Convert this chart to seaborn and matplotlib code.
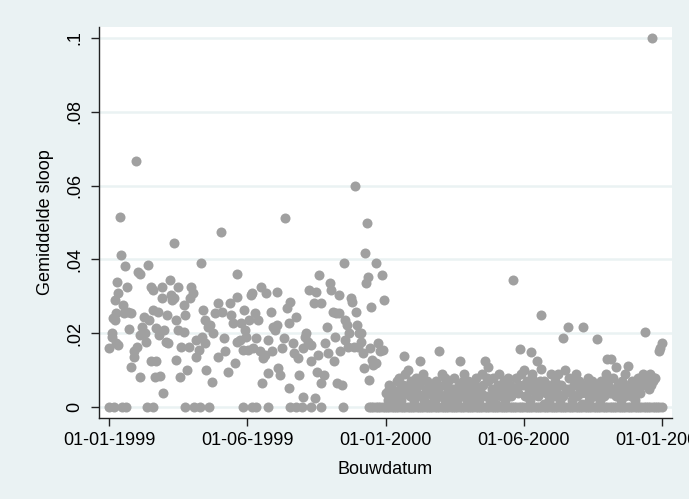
import matplotlib
matplotlib.use("Agg")
import matplotlib.pyplot as plt
import pandas as pd
import seaborn as sns

# Days since 01-01-1999 and average demolition rate per construction date
days_1999 = [0, 3, 3, 5, 7, 9, 7, 10, 12, 9, 11, 14, 16, 18, 20, 19, 23, 25, 26, 28,
             29, 32, 33, 35, 36, 38, 41, 40, 40, 43, 46, 47, 48, 51, 53, 55, 55, 58, 57, 60,
             62, 61, 64, 65, 67, 69, 70, 71, 72, 75, 76, 78, 80, 82, 83, 85, 86, 88, 88, 91,
             91, 93, 95, 98, 99, 100, 103, 105, 107, 108, 111, 114, 115, 118, 121, 123, 124, 126, 127, 128,
             130, 133, 135, 137, 140, 143, 144, 148, 149, 152, 153, 157, 159, 161, 164, 166, 168, 169, 169, 172,
             174, 176, 178, 179, 181, 183, 185, 187, 188, 190, 192, 194, 196, 199, 200, 202, 203, 206, 207, 209,
             210, 213, 215, 216, 219, 221, 222, 223, 226, 228, 231, 232, 235, 237, 238, 239, 242, 244, 246, 249,
             251, 256, 256, 259, 260, 263, 264, 266, 267, 270, 272, 273, 274, 276, 277, 279, 280, 283, 285, 287,
             289, 291, 293, 295, 297, 298, 300, 301, 303, 304, 305, 307, 310, 311, 312, 314, 315, 317, 319, 321,
             323, 324, 326, 327, 328, 330, 332, 333, 335, 336, 338, 339, 340, 342, 343, 345, 346, 347, 349, 352,
             353, 355, 357, 360, 362, 363]
sloop_1999 = [0.0160, 0.0200, 0.0191, 0.0241, 0.0290, 0.0254, 0.0236, 0.0340, 0.0308, 0.0173,
              0.0169, 0.0516, 0.0412, 0.0277, 0.0381, 0.0254, 0.0326, 0.0259, 0.0211, 0.0110,
              0.0254, 0.0137, 0.0151, 0.0666, 0.0164, 0.0367, 0.0362, 0.0083, 0.0196, 0.0218,
              0.0245, 0.0200, 0.0178, 0.0385, 0.0236, 0.0326, 0.0124, 0.0317, 0.0263, 0.0083,
              0.0124, 0.0214, 0.0259, 0.0196, 0.0085, 0.0326, 0.0295, 0.0038, 0.0209, 0.0178,
              0.0250, 0.0173, 0.0344, 0.0304, 0.0290, 0.0444, 0.0295, 0.0236, 0.0128, 0.0326,
              0.0209, 0.0083, 0.0164, 0.0277, 0.0205, 0.0250, 0.0101, 0.0164, 0.0295, 0.0326,
              0.0308, 0.0182, 0.0137, 0.0155, 0.0390, 0.0191, 0.0263, 0.0173, 0.0236, 0.0101,
              0.0218, 0.0223, 0.0069, 0.0200, 0.0254, 0.0137, 0.0281, 0.0475, 0.0259, 0.0187,
              0.0151, 0.0096, 0.0281, 0.0250, 0.0227, 0.0119, 0.0178, 0.0362, 0.0299, 0.0182,
              0.0227, 0.0155, 0.0263, 0.0209, 0.0191, 0.0155, 0.0236, 0.0304, 0.0308, 0.0160,
              0.0254, 0.0187, 0.0236, 0.0151, 0.0326, 0.0065, 0.0133, 0.0142, 0.0308, 0.0182,
              0.0092, 0.0259, 0.0151, 0.0218, 0.0209, 0.0313, 0.0223, 0.0106, 0.0087, 0.0160,
              0.0187, 0.0511, 0.0268, 0.0227, 0.0051, 0.0286, 0.0173, 0.0146, 0.0245, 0.0133,
              0.0087, 0.0029, 0.0160, 0.0191, 0.0200, 0.0178, 0.0317, 0.0124, 0.0169, 0.0281,
              0.0024, 0.0313, 0.0096, 0.0142, 0.0358, 0.0065, 0.0281, 0.0087, 0.0173, 0.0218,
              0.0146, 0.0335, 0.0317, 0.0259, 0.0124, 0.0191, 0.0254, 0.0065, 0.0304, 0.0254,
              0.0151, 0.0060, 0.0390, 0.0236, 0.0182, 0.0223, 0.0164, 0.0200, 0.0295, 0.0286,
              0.0164, 0.0599, 0.0259, 0.0223, 0.0164, 0.0200, 0.0178, 0.0200, 0.0146, 0.0106,
              0.0417, 0.0335, 0.0498, 0.0353, 0.0074, 0.0160, 0.0272, 0.0128, 0.0115, 0.0119,
              0.0390, 0.0173, 0.0151, 0.0358, 0.0155, 0.0290]

days_2000 = [366, 368, 370, 372, 374, 376, 378, 380, 382, 384, 386, 388, 390, 391, 393, 395, 397, 399, 401, 403,
             405, 407, 409, 411, 412, 414, 416, 418, 420, 422, 424, 426, 428, 430, 432, 434, 436, 438, 440, 442,
             444, 446, 448, 450, 452, 454, 456, 458, 460, 462, 464, 466, 468, 470, 472, 474, 476, 478, 480, 482,
             484, 486, 488, 490, 492, 494, 496, 498, 500, 501, 503, 505, 507, 509, 511, 513, 515, 517, 519, 521,
             523, 525, 527, 529, 531, 534, 536, 538, 540, 542, 544, 546, 548, 550, 552, 554, 556, 557, 559, 561,
             563, 565, 567, 569, 570, 571, 573, 575, 577, 579, 581, 583, 585, 587, 589, 591, 593, 595, 597, 599,
             600, 602, 604, 606, 608, 610, 612, 614, 616, 618, 620, 622, 624, 626, 628, 630, 632, 634, 636, 638,
             640, 642, 644, 646, 648, 650, 652, 654, 656, 657, 659, 661, 663, 665, 667, 669, 670, 672, 674, 676,
             678, 680, 682, 684, 685, 687, 689, 691, 693, 695, 697, 699, 701, 703, 705, 707, 708, 710, 712, 714,
             716, 717, 719, 721, 727, 728, 730,
             369, 375, 383, 389, 396, 404, 410, 419, 427, 435, 443, 451, 459, 467, 475, 483, 491, 499, 508, 516,
             524, 532, 541, 549, 558, 566, 574, 582, 590, 598, 607, 615, 623, 631, 639, 647, 655, 664, 673, 681,
             690, 698, 706, 713, 720]
sloop_2000 = [0.004, 0.002, 0.006, 0.003, 0.005, 0.001, 0.004, 0.007, 0.003, 0.005,
              0.002, 0.006, 0.0139, 0.009, 0.004, 0.010, 0.003, 0.007, 0.005, 0.002,
              0.008, 0.004, 0.006, 0.0124, 0.003, 0.009, 0.002, 0.005, 0.007, 0.001,
              0.004, 0.006, 0.003, 0.002, 0.007, 0.005, 0.0153, 0.003, 0.009, 0.006,
              0.002, 0.004, 0.007, 0.003, 0.001, 0.005, 0.008, 0.004, 0.002, 0.006,
              0.0126, 0.003, 0.009, 0.005, 0.002, 0.007, 0.004, 0.001, 0.006, 0.003,
              0.008, 0.005, 0.002, 0.004, 0.009, 0.006, 0.0126, 0.003, 0.007, 0.0108,
              0.002, 0.005, 0.008, 0.004, 0.001, 0.006, 0.009, 0.003, 0.005, 0.007,
              0.002, 0.004, 0.008, 0.006, 0.003, 0.0344, 0.005, 0.008, 0.004, 0.0157,
              0.009, 0.006, 0.010, 0.003, 0.007, 0.005, 0.002, 0.0149, 0.009, 0.006,
              0.004, 0.0126, 0.003, 0.007, 0.0250, 0.0103, 0.005, 0.001, 0.004, 0.006,
              0.002, 0.009, 0.005, 0.003, 0.007, 0.004, 0.009, 0.002, 0.006, 0.003,
              0.0188, 0.010, 0.005, 0.0216, 0.008, 0.004, 0.002, 0.006, 0.009, 0.003,
              0.007, 0.005, 0.001, 0.0216, 0.006, 0.004, 0.008, 0.002, 0.005, 0.007,
              0.003, 0.006, 0.0184, 0.004, 0.002, 0.007, 0.005, 0.003, 0.009, 0.0130,
              0.006, 0.004, 0.0130, 0.008, 0.005, 0.003, 0.0110, 0.006, 0.004, 0.002,
              0.007, 0.005, 0.009, 0.004, 0.0112, 0.006, 0.003, 0.007, 0.005, 0.002,
              0.006, 0.008, 0.004, 0.007, 0.009, 0.006, 0.0205, 0.008, 0.007, 0.009,
              0.006, 0.1000, 0.007, 0.008, 0.0151, 0.0160, 0.0173,
              0.005, 0.003, 0.008, 0.004, 0.006, 0.003, 0.007, 0.004, 0.006, 0.003,
              0.008, 0.005, 0.004, 0.007, 0.003, 0.006, 0.004, 0.008, 0.003, 0.005,
              0.007, 0.004, 0.006, 0.003, 0.008, 0.005, 0.007, 0.004, 0.006, 0.003,
              0.005, 0.008, 0.004, 0.006, 0.003, 0.005, 0.007, 0.004, 0.006, 0.003,
              0.005, 0.004, 0.007, 0.005, 0.008]

# Construction dates with no demolition at all
zero_days = [0, 6, 17, 22, 50, 57, 100, 112, 120, 132, 176, 188, 194, 210, 239, 247, 255, 267, 279, 309,
             343, 346, 349, 352, 355, 358, 361, 364, 367, 370, 373, 376, 379, 382, 385, 388, 391, 394, 397, 400,
             403, 406, 409, 412, 415, 418, 421, 424, 427, 430, 433, 436, 439, 442, 445, 448, 451, 454, 457, 460,
             463, 466, 469, 472, 475, 478, 481, 484, 487, 490, 493, 496, 499, 502, 505, 508, 511, 514, 517, 520,
             523, 526, 529, 532, 535, 538, 541, 544, 547, 550, 553, 556, 559, 562, 565, 568, 571, 574, 577, 580,
             583, 586, 589, 592, 595, 598, 601, 604, 607, 610, 613, 616, 619, 622, 625, 628, 631, 634, 637, 640,
             643, 646, 649, 652, 655, 658, 661, 664, 667, 670, 673, 676, 679, 682, 685, 688, 691, 694, 697, 700,
             703, 706, 709, 712, 715, 718, 721, 724, 727, 730]

tick_days = [0, 182.5, 365, 547.5, 730]
tick_labels = ["01-01-1999", "01-06-1999", "01-01-2000", "01-06-2000", "01-01-2001"]
y_ticks = [0, 0.02, 0.04, 0.06, 0.08, 0.1]
y_labels = ["0", ".02", ".04", ".06", ".08", ".1"]

df = pd.DataFrame({
    "Bouwdatum": days_1999 + days_2000 + zero_days,
    "Gemiddelde sloop": sloop_1999 + sloop_2000 + [0.0] * len(zero_days),
})

plt.rcParams["font.family"] = ["Liberation Sans", "DejaVu Sans"]

bg = "#EAF2F3"
fig = plt.figure(figsize=(6.89, 4.99), dpi=100, facecolor=bg)
ax = fig.add_axes([0.1435, 0.1623, 0.9753 - 0.1435, 0.9465 - 0.1623])
ax.set_facecolor("white")

sns.scatterplot(data=df, x="Bouwdatum", y="Gemiddelde sloop", ax=ax,
                color="#A0A0A0", s=52, linewidth=0, alpha=1, zorder=3)

ax.set_xlim(-13.9, 743.5)
ax.set_ylim(-0.0029, 0.10298)

ax.set_yticks(y_ticks)
ax.set_yticklabels(y_labels, rotation=90, va="center")
ax.set_xticks(tick_days)
ax.set_xticklabels(tick_labels)

for y in y_ticks:
    ax.axhline(y, color=bg, lw=1.8, zorder=1)

for side in ("top", "right"):
    ax.spines[side].set_visible(False)
for side in ("left", "bottom"):
    ax.spines[side].set_color("#222222")
    ax.spines[side].set_linewidth(1.0)

ax.tick_params(axis="both", direction="out", length=6, width=1.0, color="#222222",
               labelsize=13, labelcolor="black", pad=4)
ax.tick_params(axis="y", pad=5)

ax.set_xlabel("Bouwdatum", fontsize=13, labelpad=9)
ax.set_ylabel("Gemiddelde sloop", fontsize=13, labelpad=9)

fig.savefig("out.png", dpi=100, facecolor=bg)
